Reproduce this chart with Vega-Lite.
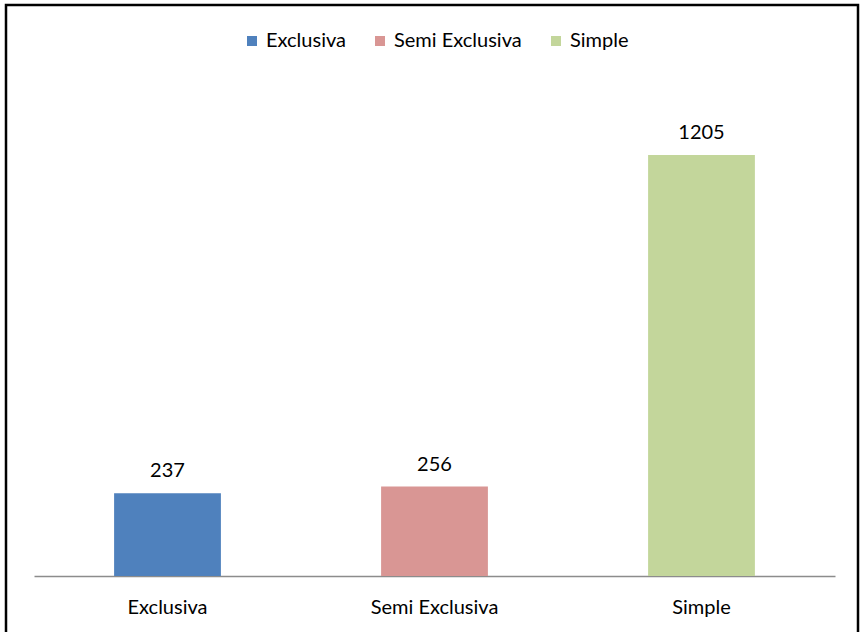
{
  "$schema": "https://vega.github.io/schema/vega-lite/v6.json",
  "autosize": {"type": "none"},
  "width": 852,
  "height": 630,
  "padding": {"left": 6, "top": 5, "right": 2, "bottom": 0},
  "background": "white",
  "config": {
    "view": {"stroke": "black", "strokeWidth": 2.5},
    "font": "Lato"
  },
  "data": {
    "values": [
      {"tipo": "Exclusiva", "valor": 237},
      {"tipo": "Semi Exclusiva", "valor": 256},
      {"tipo": "Simple", "valor": 1205}
    ]
  },
  "encoding": {
    "x": {
      "field": "tipo",
      "type": "nominal",
      "sort": null,
      "scale": {"range": [28, 829], "paddingInner": 0.6, "paddingOuter": 0.3},
      "axis": {
        "title": null,
        "orient": "bottom",
        "offset": -59,
        "labelAngle": 0,
        "ticks": false,
        "domainColor": "#8c8c8c",
        "domainWidth": 1.5,
        "labelFontSize": 20,
        "labelColor": "black",
        "labelBaseline": "alphabetic",
        "labelPadding": 37,
        "labelFont": "Lato"
      }
    },
    "y": {
      "field": "valor",
      "type": "quantitative",
      "scale": {"domain": [0, 1634], "range": [571, 0]},
      "axis": null
    }
  },
  "layer": [
    {
      "mark": {"type": "bar"},
      "encoding": {
        "color": {
          "field": "tipo",
          "type": "nominal",
          "scale": {"domain": ["Exclusiva", "Semi Exclusiva", "Simple"], "range": ["#4F81BD", "#D99694", "#C3D69B"]},
          "legend": {
            "title": null,
            "orient": "none",
            "direction": "horizontal",
            "legendX": 236,
            "legendY": 26,
            "symbolType": "square",
            "symbolSize": 100,
            "symbolStrokeWidth": 0,
            "labelFontSize": 20,
            "labelColor": "black",
            "labelFont": "Lato",
            "columnPadding": 24,
            "symbolOffset": 0,
            "labelOffset": 4
          }
        }
      }
    },
    {
      "mark": {"type": "text", "baseline": "alphabetic", "dy": -16, "fontSize": 20, "color": "black", "font": "Lato"},
      "encoding": {"text": {"field": "valor", "type": "quantitative"}}
    }
  ]
}
